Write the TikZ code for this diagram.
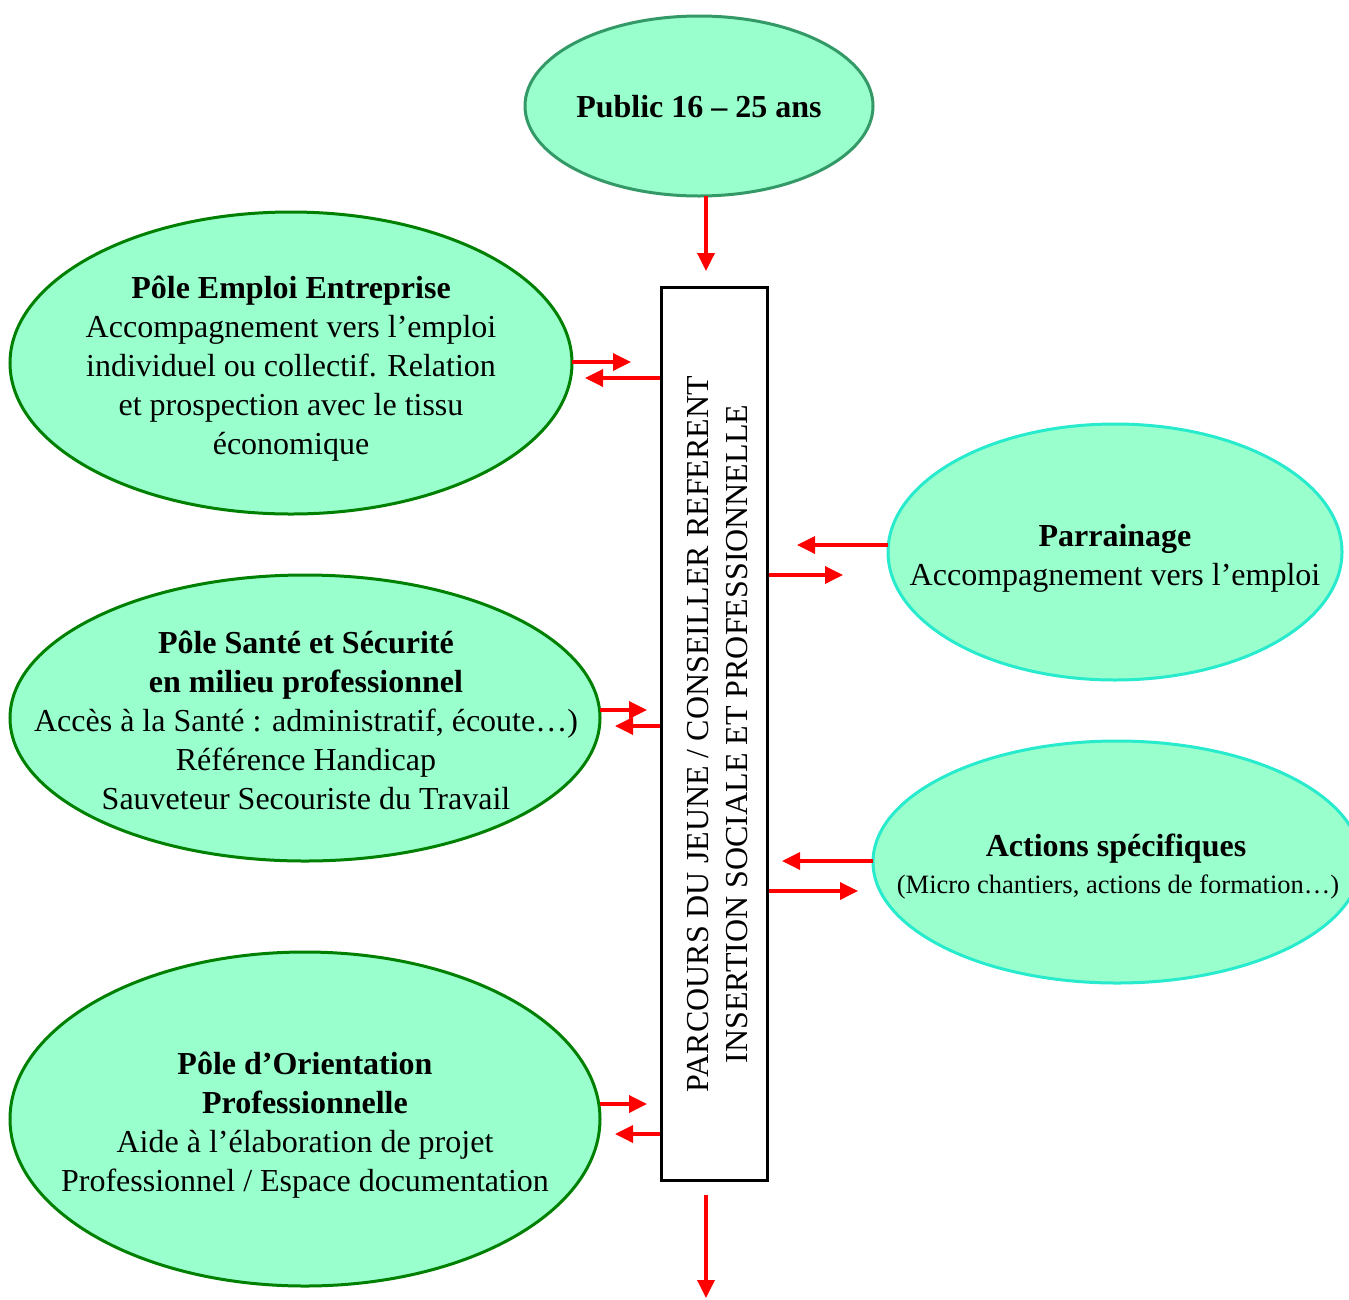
\documentclass[tikz,border=0pt]{standalone}
\usepackage{fontspec}
\setmainfont{Liberation Serif}
\usetikzlibrary{shapes.geometric,arrows.meta}
\definecolor{mint}{RGB}{153,255,204}
\definecolor{topborder}{RGB}{51,153,102}
\definecolor{leftborder}{RGB}{0,128,0}
\definecolor{rightborder}{RGB}{40,235,205}
\tikzset{
  oval/.style={ellipse,fill=mint,line width=3pt,inner sep=0pt,outer sep=0pt},
  txt/.style={align=center,inner sep=0pt,font=\fontsize{32}{39}\selectfont},
  arr/.style={draw=red,line width=3.5pt,-{Triangle[length=18pt,width=17pt]},red},
  rectbox/.style={draw=black,line width=3pt,fill=white,inner sep=0pt}
}
\begin{document}
\begin{tikzpicture}[x=1pt,y=-1pt]
\clip (0,0) rectangle (1349,1299);
\fill[white] (0,0) rectangle (1349,1299);
% ellipses
\node[oval,draw=topborder,minimum width=348pt,minimum height=180pt] (top) at (699,106) {};
\node[oval,draw=leftborder,minimum width=562pt,minimum height=302pt] (e1) at (291,363) {};
\node[oval,draw=leftborder,minimum width=590pt,minimum height=286pt] (e2) at (305,718) {};
\node[oval,draw=leftborder,minimum width=590pt,minimum height=334pt] (e3) at (305,1119) {};
\node[oval,draw=rightborder,minimum width=454pt,minimum height=256pt] (par) at (1115,552) {};
\node[oval,draw=rightborder,minimum width=488pt,minimum height=242pt] (act) at (1117,862) {};
% texts
\node[txt,font=\fontsize{32}{39}\selectfont\bfseries] (topt) at (699,107) {Public 16 -- 25 ans};
\node[txt] (e1t) at (291,369) {\textbf{Pôle Emploi Entreprise}\\Accompagnement vers l’emploi\\individuel ou collectif. Relation\\et prospection avec le tissu\\économique};
\node[txt] (e2t) at (306,720) {\textbf{Pôle Santé et Sécurité}\\\textbf{en milieu professionnel}\\Accès à la Santé : administratif, écoute…)\\Référence Handicap\\Sauveteur Secouriste du Travail};
\node[txt] (e3t) at (305,1125) {\textbf{Pôle d’Orientation}\\\textbf{Professionnelle}\\Aide à l’élaboration de projet\\Professionnel / Espace documentation};
\node[txt] (part) at (1115,558) {\textbf{Parrainage}\\Accompagnement vers l’emploi};
\node[txt,anchor=base] (actt1) at (1116,856) {\textbf{Actions spécifiques}};
\node[txt,anchor=base,font=\fontsize{26.5}{32}\selectfont] (actt2) at (1118,893) {(Micro chantiers, actions de formation…)};
% central box
\node[rectbox,minimum width=106pt,minimum height=893pt] (rect) at (714,733.5) {};
\node[txt,rotate=90] (rectt) at (717.5,734) {PARCOURS DU JEUNE / CONSEILLER REFERENT\\INSERTION SOCIALE ET PROFESSIONNELLE};
% arrow coordinates
\coordinate (t1) at (706,271);
\coordinate (b0) at (706,1195);
\coordinate (b1) at (706,1298);
\coordinate (p1) at (631,362);
\coordinate (q1) at (585,378);
\coordinate (q2) at (797,545);
\coordinate (p2) at (843,575);
\coordinate (p3) at (647,710);
\coordinate (q3) at (615,726);
\coordinate (q4) at (782,861);
\coordinate (p4) at (858,891);
\coordinate (p5) at (647,1104);
\coordinate (q5) at (615,1134);
% arrows
\draw[arr] (top.south -| t1) -- (t1);
\draw[arr] (b0) -- (b1);
\draw[arr] (e1.east |- p1) -- (p1);
\draw[arr] (rect.west |- q1) -- (q1);
\draw[arr] (par.west |- q2) -- (q2);
\draw[arr] (rect.east |- p2) -- (p2);
\draw[arr] (e2.east |- p3) -- (p3);
\draw[arr] (rect.west |- q3) -- (q3);
\draw[arr] (act.west |- q4) -- (q4);
\draw[arr] (rect.east |- p4) -- (p4);
\draw[arr] (e3.east |- p5) -- (p5);
\draw[arr] (rect.west |- q5) -- (q5);
\end{tikzpicture}
\end{document}
